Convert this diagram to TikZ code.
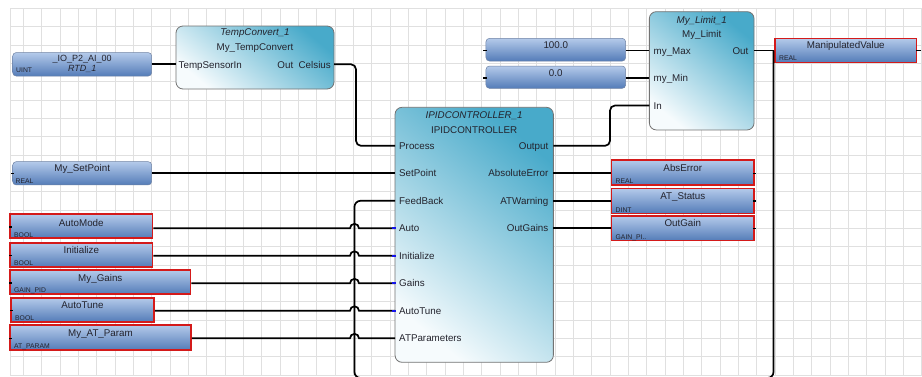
\documentclass[tikz,border=0pt]{standalone}
\usepackage{fontspec}
\setmainfont{Liberation Sans}
\usetikzlibrary{calc}
\definecolor{gridc}{RGB}{224,224,224}
\definecolor{vtop}{RGB}{180,202,234}
\definecolor{vbot}{RGB}{84,124,184}
\definecolor{vline}{RGB}{110,130,165}
\definecolor{btop}{RGB}{72,170,202}
\definecolor{bbot}{RGB}{246,251,253}
\definecolor{bline}{RGB}{115,115,115}
\definecolor{redb}{RGB}{212,26,26}
\definecolor{pinb}{RGB}{20,20,235}
\definecolor{txt}{RGB}{35,35,45}
\tikzset{
  varbox/.style={draw=vline, line width=0.5pt, top color=vtop, bottom color=vbot, inner sep=0pt},
  rvar/.style={varbox, rounded corners=3.5pt},
  redvar/.style={varbox, draw=redb, line width=1.6pt},
  block/.style={draw=bline, line width=0.8pt, rounded corners=7pt, top color=btop, bottom color=bbot, shading angle=-40, inner sep=0pt},
  wire/.style={line width=1.7pt, black, rounded corners=5pt},
  pinstub/.style={line width=1.7pt, pinb},
  tick/.style={line width=1.5pt, black},
  nm/.style={font=\fontsize{9.8}{11}\selectfont, inner sep=0pt, anchor=base, text=txt},
  nmi/.style={font=\fontsize{9.8}{11}\selectfont\itshape, inner sep=0pt, anchor=base, text=txt},
  ty/.style={font=\fontsize{6.8}{7}\selectfont, inner sep=0pt, anchor=base west, text=txt},
  pinl/.style={font=\fontsize{9.8}{11}\selectfont, inner sep=0pt, anchor=base west, text=txt},
  pinr/.style={font=\fontsize{9.8}{11}\selectfont, inner sep=0pt, anchor=base east, text=txt},
}
\begin{document}
\begin{tikzpicture}[x=1pt,y=-1pt]
\useasboundingbox (0,0) rectangle (922,376);
\fill[white] (0,0) rectangle (922,376);
% grid
\foreach \k in {1,...,50} {\draw[gridc, line width=0.8pt] ({5.1+18.33*\k},8.3) -- ({5.1+18.33*\k},376);}
\draw[gridc, line width=0.8pt] (10,8.3) -- (10,376);
\foreach \k in {0,...,20} {\draw[gridc, line width=0.8pt] (10,{8.3+18.33*\k}) -- (922,{8.3+18.33*\k});}

% function blocks
\node[block, minimum width=158pt, minimum height=63pt] (tc) at (255,57.5) {};
\node[block, minimum width=158.3pt, minimum height=255pt] (pid) at (474.2,234.8) {};
\node[block, minimum width=104.7pt, minimum height=118.3pt] (lim) at (701.7,70.8) {};

% pins
\coordinate (tc-in) at (176,64.3);
\coordinate (tc-out) at (334,64.3);
\coordinate (p-proc) at (395,145.8);
\coordinate (p-sp) at (395,173.3);
\coordinate (p-fb) at (395,200.8);
\coordinate (p-auto) at (395,228.3);
\coordinate (p-init) at (395,255.8);
\coordinate (p-gain) at (395,283.3);
\coordinate (p-at) at (395,310.8);
\coordinate (p-atp) at (395,338.3);
\coordinate (p-out) at (553.3,145.8);
\coordinate (p-abs) at (553.3,173.3);
\coordinate (p-atw) at (553.3,200.8);
\coordinate (p-og) at (553.3,228.3);
\coordinate (l-max) at (649.3,50.5);
\coordinate (l-min) at (649.3,78);
\coordinate (l-in) at (649.3,105.5);
\coordinate (l-out) at (754,50.5);
\coordinate (pbend) at (356,100);
\coordinate (obend) at (610,125);
\coordinate (fbr) at (773.5,50.5);
\coordinate (fbx) at (354.5,378);

% block texts
\node[nmi] (tc-t) at (255,35.3) {TempConvert\_1};
\node[nm] (tc-n) at (255,50.3) {My\_TempConvert};
\node[pinl] (tc-pi) at (178.5,68) {TempSensorIn};
\node[pinr] (tc-po) at (331,68) {Out\ \ Celsius};

\node[nmi] (pid-t) at (474.2,118.6) {IPIDCONTROLLER\_1};
\node[nm] (pid-n) at (474.2,133.6) {IPIDCONTROLLER};
\node[pinl] (t-proc) at (399,149.4) {Process};
\node[pinl] (t-sp) at (399,176.9) {SetPoint};
\node[pinl] (t-fb) at (399,204.4) {FeedBack};
\node[pinl] (t-auto) at (399,231.9) {Auto};
\node[pinl] (t-init) at (399,259.4) {Initialize};
\node[pinl] (t-gain) at (399,286.9) {Gains};
\node[pinl] (t-at) at (399,314.4) {AutoTune};
\node[pinl] (t-atp) at (399,341.9) {ATParameters};
\node[pinr] (t-out) at (548.5,149.4) {Output};
\node[pinr] (t-abs) at (548.5,176.9) {AbsoluteError};
\node[pinr] (t-atw) at (548.5,204.4) {ATWarning};
\node[pinr] (t-og) at (548.5,231.9) {OutGains};

\node[nmi] (lim-t) at (701.7,23) {My\_Limit\_1};
\node[nm] (lim-n) at (701.7,37) {My\_Limit};
\node[pinl] (t-max) at (653.5,54.1) {my\_Max};
\node[pinl] (t-min) at (653.5,81.6) {my\_Min};
\node[pinl] (t-in) at (653.5,109.1) {In};
\node[pinr] (t-lout) at (748.5,54.1) {Out};

% variables
\node[rvar, minimum width=139pt, minimum height=23.5pt] (io) at (82.2,64.3) {};
\node[nm, font=\fontsize{9}{10}\selectfont] (io-n) at (82.2,61.3) {\_IO\_P2\_AI\_00};
\node[nmi, font=\fontsize{9}{10}\selectfont\itshape] (io-a) at (82.2,71.4) {RTD\_1};
\node[ty] (io-ty) at (16,72.5) {UINT};

\node[rvar, minimum width=139pt, minimum height=23.3pt] (sp) at (82.2,173.3) {};
\node[nm] (sp-n) at (82.2,171.8) {My\_SetPoint};
\node[ty] (sp-ty) at (15.5,183.5) {REAL};

\node[redvar, minimum width=142.7pt, minimum height=24pt] (am) at (81.3,226.2) {};
\node[nm] (am-n) at (81.3,226.8) {AutoMode};
\node[ty] (am-ty) at (14,237) {BOOL};

\node[redvar, minimum width=142.7pt, minimum height=24pt] (ini) at (81.3,254.7) {};
\node[nm] (ini-n) at (81.3,253.5) {Initialize};
\node[ty] (ini-ty) at (14,265.3) {BOOL};

\node[redvar, minimum width=180.7pt, minimum height=24pt] (mg) at (100.3,282) {};
\node[nm] (mg-n) at (100.3,281.2) {My\_Gains};
\node[ty] (mg-ty) at (14,292.8) {GAIN\_PID};

\node[redvar, minimum width=143pt, minimum height=24pt] (atn) at (82.5,309.7) {};
\node[nm] (atn-n) at (82.5,308.5) {AutoTune};
\node[ty] (atn-ty) at (15,320.3) {BOOL};

\node[redvar, minimum width=181pt, minimum height=25pt] (atpv) at (100.5,337.5) {};
\node[nm] (atpv-n) at (100.5,336.2) {My\_AT\_Param};
\node[ty] (atpv-ty) at (14,348.3) {AT\_PARAM};

\node[redvar, minimum width=142.3pt, minimum height=25pt] (ae) at (682.8,172.5) {};
\node[nm] (ae-n) at (682.8,171.8) {AbsError};
\node[ty] (ae-ty) at (615.5,183.5) {REAL};

\node[redvar, minimum width=142.3pt, minimum height=25pt] (ats) at (682.8,200.8) {};
\node[nm] (ats-n) at (682.8,199.5) {AT\_Status};
\node[ty] (ats-ty) at (615.5,212) {DINT};

\node[redvar, minimum width=142.3pt, minimum height=24.7pt] (og) at (682.8,228.3) {};
\node[nm] (og-n) at (682.8,226.8) {OutGain};
\node[ty] (og-ty) at (615.5,239.3) {GAIN\_PI..};

\node[redvar, minimum width=141.7pt, minimum height=24pt] (mv) at (845.8,50.3) {};
\node[nm] (mv-n) at (845.8,48.5) {ManipulatedValue};
\node[ty] (mv-ty) at (779,60.8) {REAL};

\node[rvar, minimum width=139.7pt, minimum height=22.7pt] (c100) at (555.8,49.7) {};
\node[nm] (c100-n) at (555.8,48.5) {100.0};
\node[rvar, minimum width=139.7pt, minimum height=22.3pt] (c0) at (555.8,77.2) {};
\node[nm] (c0-n) at (555.8,76.2) {0.0};

% connectors
\draw[wire] (io.east |- tc-in) -- (tc-in);
\draw[wire] (tc-out) -| (pbend) |- (p-proc);
\draw[wire] (sp.east |- p-sp) -- (p-sp);
\draw[wire] (p-out) -| (obend) |- (l-in);
\draw[wire] (c100.east |- l-max) -- (l-max);
\draw[wire] (c0.east |- l-min) -- (l-min);
\draw[wire] (l-out) -- (mv.west |- l-out);
\draw[wire] (p-abs) -- (ae.west |- p-abs);
\draw[wire] (p-atw) -- (ats.west |- p-atw);
\draw[wire] (p-og) -- (og.west |- p-og);
% feedback loop
\draw[wire, rounded corners=6pt] (fbr) -- (fbr |- fbx) -- (fbx) -- (fbx |- p-fb) -- (p-fb);
% inputs with line hops
\draw[wire, rounded corners=0pt] (am.east |- p-auto) -- ($(fbx |- p-auto)+(-4.5,0)$) arc[start angle=180, end angle=0, radius=4.5pt] -- (p-auto);
\draw[wire, rounded corners=0pt] (ini.east |- p-init) -- ($(fbx |- p-init)+(-4.5,0)$) arc[start angle=180, end angle=0, radius=4.5pt] -- (p-init);
\draw[wire, rounded corners=0pt] (mg.east |- p-gain) -- ($(fbx |- p-gain)+(-4.5,0)$) arc[start angle=180, end angle=0, radius=4.5pt] -- (p-gain);
\draw[wire, rounded corners=0pt] (atn.east |- p-at) -- ($(fbx |- p-at)+(-4.5,0)$) arc[start angle=180, end angle=0, radius=4.5pt] -- (p-at);
\draw[wire, rounded corners=0pt] (atpv.east |- p-atp) -- ($(fbx |- p-atp)+(-4.5,0)$) arc[start angle=180, end angle=0, radius=4.5pt] -- (p-atp);
% blue pin stubs
\draw[pinstub] ($(p-auto)+(-3,0)$) -- ($(p-auto)+(1,0)$);
\draw[pinstub] ($(p-init)+(-3,0)$) -- ($(p-init)+(1,0)$);
\draw[pinstub] ($(p-gain)+(-3,0)$) -- ($(p-gain)+(1,0)$);
\draw[pinstub] ($(p-at)+(-3,0)$) -- ($(p-at)+(1,0)$);

% small terminal ticks
\draw[tick] ($(sp.west)+(-1.5,0)$) -- ++(3,0);
\draw[tick] ($(am.west)+(0,1)$) -- ++(3,0);
\draw[tick] ($(ini.west)+(0,1)$) -- ++(3,0);
\draw[tick] ($(mg.west)+(0,1)$) -- ++(3,0);
\draw[tick] ($(atn.west)+(0,1)$) -- ++(3,0);
\draw[tick] ($(atpv.west)+(0,1)$) -- ++(3,0);
\draw[tick] ($(ae.east)+(-2,0.8)$) -- ++(3,0);
\draw[tick] ($(ats.east)+(-2,0)$) -- ++(3,0);
\draw[tick] ($(og.east)+(-2,0)$) -- ++(3,0);
\draw[tick] ($(c100.west)+(-2.5,0.8)$) -- ++(3.5,0);
\draw[tick] ($(c0.west)+(-2.5,0.8)$) -- ++(3.5,0);
\draw[tick] ($(mv.east)+(-1,0.2)$) -- ++(5,0);
\end{tikzpicture}
\end{document}
